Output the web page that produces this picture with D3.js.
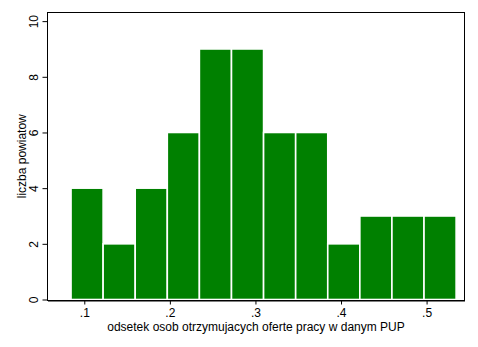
<!DOCTYPE html>
<html>
<head>
<meta charset="utf-8">
<script src="https://cdn.jsdelivr.net/npm/d3@7"></script>
<style>
  html, body { margin: 0; padding: 0; background: #fff; }
  svg { display: block; }
  text { font-family: "Liberation Sans", Arial, sans-serif; fill: #000; }
</style>
</head>
<body>
<script>
// ---- data ----
const binLower = [0.047, 0.0845, 0.122, 0.1595, 0.197, 0.2345, 0.272, 0.3095, 0.347, 0.3845, 0.422, 0.4595, 0.497];
const binWidth = 0.0375;
const counts = [0, 4, 2, 4, 6, 9, 9, 6, 6, 2, 3, 3, 3];
const xTicks = [0.1, 0.2, 0.3, 0.4, 0.5];
const yTicks = [0, 2, 4, 6, 8, 10];
const xTitle = "odsetek osob otrzymujacych oferte pracy w danym PUP";
const yTitle = "liczba powiatow";

// ---- layout ----
const W = 478, H = 347;
const plot = { left: 47.5, right: 464.5, top: 12.5, bottom: 300 };

const svg = d3.select("body").append("svg").attr("width", W).attr("height", H);

const x = d3.scaleLinear().domain([0.057, 0.5443]).range([plot.left, plot.right]);
const y = d3.scaleLinear().domain([0, 10.31]).range([299.5, plot.top]);

svg.append("clipPath").attr("id", "clip")
  .append("rect").attr("x", plot.left).attr("y", plot.top)
  .attr("width", plot.right - plot.left).attr("height", plot.bottom - plot.top);

const bins = binLower.map((b, i) => ({ x0: b, x1: b + binWidth, n: counts[i] }));

svg.append("g").attr("clip-path", "url(#clip)")
  .selectAll("rect").data(bins).join("rect")
  .attr("x", d => x(d.x0))
  .attr("width", d => x(d.x1) - x(d.x0))
  .attr("y", d => y(d.n))
  .attr("height", d => y(0) - y(d.n))
  .attr("fill", "#008000")
  .attr("stroke", "#ffffff")
  .attr("stroke-width", 1.6);

// frame
svg.append("rect")
  .attr("x", plot.left).attr("y", plot.top)
  .attr("width", plot.right - plot.left).attr("height", plot.bottom + 0.5 - plot.top)
  .attr("fill", "none").attr("stroke", "#000").attr("stroke-width", 1);

// x axis
const fmt = d => d3.format(".1f")(d).replace(/^0/, "");
const gx = svg.append("g").attr("transform", `translate(0,${plot.bottom + 0.5})`)
  .call(d3.axisBottom(x).tickValues(xTicks).tickFormat(fmt).tickSize(4).tickPadding(4).tickSizeOuter(0));
gx.select(".domain").attr("stroke", "#000");
gx.selectAll(".tick line").attr("stroke", "#000");
gx.selectAll(".tick text").attr("font-size", 12).attr("font-family", "Liberation Sans, Arial, sans-serif").attr("fill", "#000");

// y axis
const gy = svg.append("g").attr("transform", `translate(${plot.left},0)`)
  .call(d3.axisLeft(y).tickValues(yTicks).tickSize(5).tickSizeOuter(0));
gy.select(".domain").remove();
gy.selectAll(".tick line").attr("stroke", "#000");
gy.selectAll(".tick text")
  .attr("font-size", 12).attr("font-family", "Liberation Sans, Arial, sans-serif").attr("fill", "#000")
  .attr("x", null).attr("dy", null)
  .attr("text-anchor", "middle")
  .attr("transform", "translate(-10,0) rotate(-90)");

// titles
svg.append("text")
  .attr("x", (plot.left + plot.right) / 2).attr("y", 330.5)
  .attr("text-anchor", "middle").attr("font-size", 12)
  .text(xTitle);

svg.append("text")
  .attr("transform", `translate(26,${(plot.top + plot.bottom) / 2}) rotate(-90)`)
  .attr("text-anchor", "middle").attr("font-size", 12)
  .text(yTitle);
</script>
</body>
</html>
